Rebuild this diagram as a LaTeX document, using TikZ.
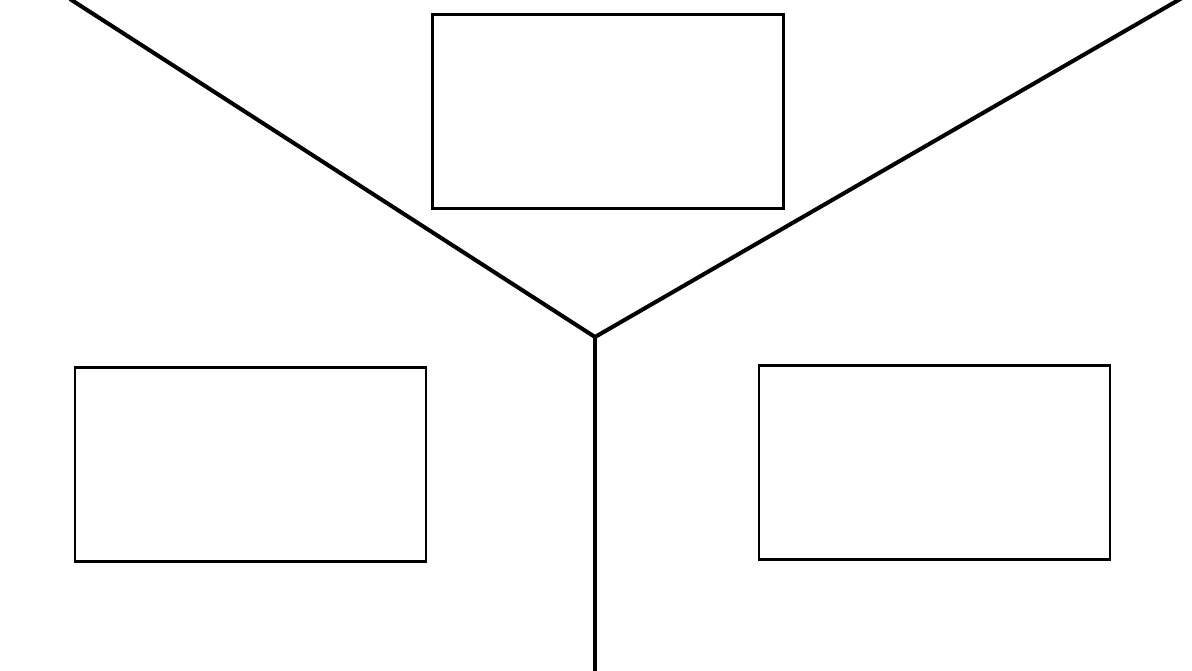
\documentclass[tikz,border=0pt]{standalone}
\usepackage{tikz}
\usetikzlibrary{calc}

\begin{document}
\begin{tikzpicture}[x=0.02cm, y=-0.02cm,
	box/.style={draw, black, line width=1.2pt, minimum width=7.02cm, minimum height=3.88cm, inner sep=0pt},
	arm/.style={black, line width=2.3pt}]
	\useasboundingbox (0,0) rectangle (1192,670);

	\node (Top) [box] at (608, 111.5) { };
	\node (Left) [box] at (250.5, 464.5) { };
	\node (Right) [box] at (934.5, 462.5) { };

	\coordinate (Mid) at (595, 337);
	\coordinate (TL) at (70, -1);
	\coordinate (TR) at (1182, -2);
	\coordinate (Bot) at (595, 672);

	\draw [arm] (TL) -- (Mid) -- (TR);
	\draw [arm] (Mid) -- (Bot);
\end{tikzpicture}
\end{document}
